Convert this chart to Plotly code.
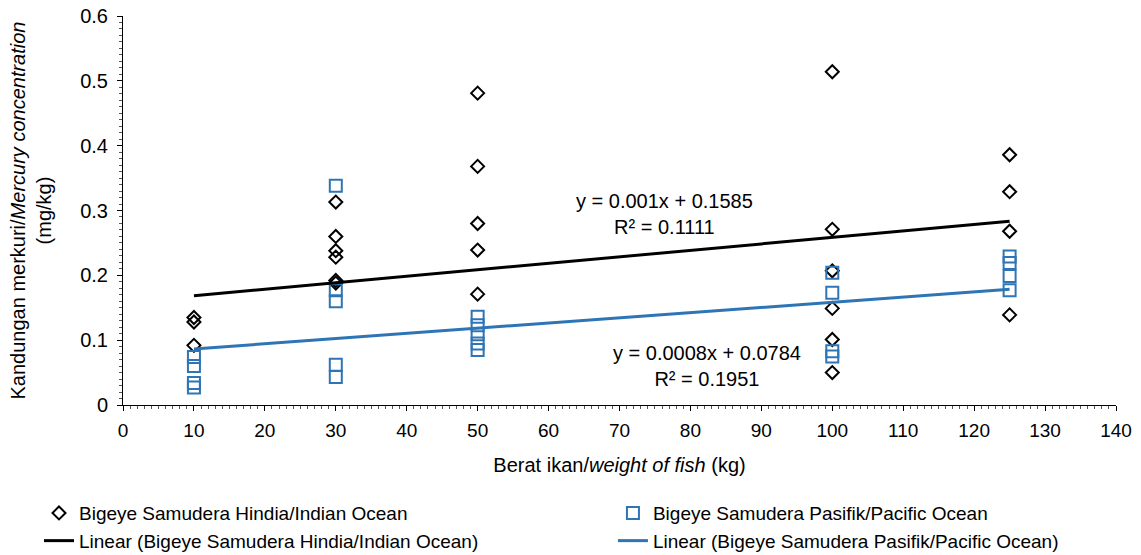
import plotly.graph_objects as go
import numpy as np

# Indian Ocean (diamonds)
indian_x = [10, 10, 10,
            30, 30, 30, 30, 30, 30,
            50, 50, 50, 50, 50,
            100, 100, 100, 100, 100, 100,
            125, 125, 125, 125]
indian_y = [0.135, 0.128, 0.092,
            0.313, 0.260, 0.238, 0.228, 0.192, 0.188,
            0.481, 0.368, 0.280, 0.239, 0.171,
            0.514, 0.271, 0.207, 0.149, 0.101, 0.050,
            0.386, 0.329, 0.268, 0.139]

# Pacific Ocean (squares)
pacific_x = [10, 10, 10, 10,
             30, 30, 30, 30, 30,
             50, 50, 50, 50, 50,
             100, 100, 100, 100,
             125, 125, 125, 125]
pacific_y = [0.074, 0.060, 0.034, 0.027,
             0.338, 0.177, 0.160, 0.062, 0.043,
             0.136, 0.123, 0.109, 0.095, 0.085,
             0.204, 0.173, 0.083, 0.075,
             0.229, 0.219, 0.199, 0.177]

# trend line coefficients (from equations shown)
indian_slope, indian_intercept, indian_r2 = 0.001, 0.1585, 0.1111
pacific_slope, pacific_intercept, pacific_r2 = 0.0008, 0.0784, 0.1951
trend_x = [10, 125]

x_ticks = list(range(0, 141, 10))
y_ticks = [0, 0.1, 0.2, 0.3, 0.4, 0.5, 0.6]

BLACK = "#000000"
BLUE = "#2E75B6"
FONT = "Liberation Sans, Arial, sans-serif"

fig = go.Figure()
fig.add_trace(go.Scatter(
    x=indian_x, y=indian_y, mode="markers",
    name="Bigeye Samudera Hindia/Indian Ocean", legend="legend",
    marker=dict(symbol="diamond-open", size=10, color=BLACK, line=dict(width=2, color=BLACK)),
))
fig.add_trace(go.Scatter(
    x=pacific_x, y=pacific_y, mode="markers",
    name="Bigeye Samudera Pasifik/Pacific Ocean", legend="legend2",
    marker=dict(symbol="square-open", size=12, color=BLUE, line=dict(width=2, color=BLUE)),
))
tx = np.array(trend_x)
fig.add_trace(go.Scatter(
    x=trend_x, y=list(indian_slope * tx + indian_intercept), mode="lines",
    name="Linear (Bigeye Samudera Hindia/Indian Ocean)", legend="legend",
    line=dict(color=BLACK, width=3),
))
fig.add_trace(go.Scatter(
    x=trend_x, y=list(pacific_slope * tx + pacific_intercept), mode="lines",
    name="Linear (Bigeye Samudera Pasifik/Pacific Ocean)", legend="legend2",
    line=dict(color=BLUE, width=3),
))

fig.add_annotation(x=76.4, y=0.295, xref="x", yref="y", showarrow=False,
                   text=f"y = {indian_slope}x + {indian_intercept}<br>R² = {indian_r2}",
                   font=dict(family=FONT, size=20, color="#000"), align="center")
fig.add_annotation(x=82.3, y=0.060, xref="x", yref="y", showarrow=False,
                   text=f"y = {pacific_slope}x + {pacific_intercept}<br>R² = {pacific_r2}",
                   font=dict(family=FONT, size=20, color="#000"), align="center")

fig.update_xaxes(
    range=[0, 140], tickvals=x_ticks, ticktext=[str(v) for v in x_ticks],
    showgrid=False, zeroline=False, showline=True, linecolor="#000", linewidth=1,
    ticks="outside", ticklen=5, tickcolor="#000", ticklabelstandoff=3,
    minor=dict(dtick=1, ticks="outside", ticklen=3, tickcolor="#555", showgrid=False),
    title=dict(text="Berat ikan/<i>weight of fish</i> (kg)", font=dict(family=FONT, size=20, color="#000"), standoff=18),
    tickfont=dict(family=FONT, size=19, color="#000"),
)
fig.update_yaxes(
    range=[0, 0.6], tickvals=y_ticks, ticktext=["0", "0.1", "0.2", "0.3", "0.4", "0.5", "0.6"],
    showgrid=False, zeroline=False, showline=True, linecolor="#000", linewidth=1,
    ticks="outside", ticklen=5, tickcolor="#000", ticklabelstandoff=5,
    minor=dict(dtick=0.01, ticks="outside", ticklen=3, tickcolor="#555", showgrid=False),
    title=dict(text="Kandungan merkuri/<i>Mercury concentration</i><br>(mg/kg)", font=dict(family=FONT, size=20, color="#000"), standoff=23),
    tickfont=dict(family=FONT, size=20, color="#000"),
)

leg_common = dict(orientation="v", yanchor="top", xanchor="left", tracegroupgap=0,
                  bgcolor="rgba(0,0,0,0)", font=dict(family=FONT, size=19, color="#000"))
fig.update_layout(
    width=1141, height=555,
    margin=dict(l=123, r=25, t=16, b=150, autoexpand=False),
    paper_bgcolor="white", plot_bgcolor="white",
    font=dict(family=FONT, size=19, color="#000"),
    legend=dict(x=-0.0846, y=-0.229, **leg_common),
    legend2=dict(x=0.4934, y=-0.229, **leg_common),
)

fig.write_html("out.html")
